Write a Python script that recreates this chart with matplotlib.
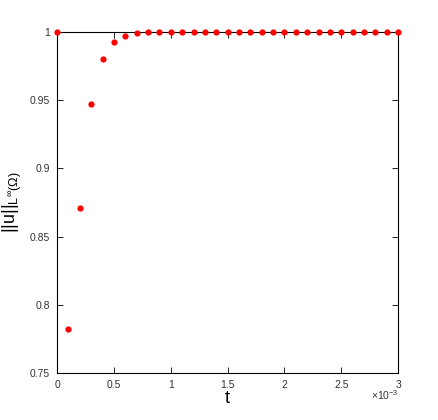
import numpy as np
import matplotlib
matplotlib.use('Agg')
import matplotlib.pyplot as plt

# time steps (in units of 1e-3) and sup-norm values
t = np.arange(31) * 0.1e-3
norm_vals = [1.0, 0.782, 0.871, 0.947, 0.980, 0.9925, 0.997, 0.999] + [1.0] * 23

plt.rcParams['font.family'] = ['Liberation Sans', 'DejaVu Sans']
plt.rcParams['mathtext.fontset'] = 'custom'
plt.rcParams['mathtext.rm'] = 'Liberation Sans'
plt.rcParams['mathtext.it'] = 'Liberation Sans'

fig = plt.figure(figsize=(4.39, 4.20), dpi=100)
ax = fig.add_axes([0.130, 0.112, 0.777, 0.812])
ax.plot(t, norm_vals, 'o', color='#ff0000', markersize=4.5, markeredgewidth=0, clip_on=False, zorder=3)

ax.set_xlim(0, 3e-3)
ax.set_ylim(0.75, 1.0)
ax.set_xticks(np.arange(0, 3.01e-3, 0.5e-3))
ax.set_xticklabels(['0', '0.5', '1', '1.5', '2', '2.5', '3'])
ax.set_yticks([0.75, 0.8, 0.85, 0.9, 0.95, 1.0])
ax.set_yticklabels(['0.75', '0.8', '0.85', '0.9', '0.95', '1'])
ax.tick_params(direction='in', top=True, right=True, labelsize=7.5, labelcolor='#333333',
               length=4, width=0.6, pad=5)
for s in ax.spines.values():
    s.set_linewidth(0.8)

ax.text(1.0, -0.045, r'$\times10^{-3}$', transform=ax.transAxes, ha='right', va='top',
        fontsize=7.5, color='#333333')
ax.set_xlabel('t', fontsize=13, labelpad=0)
ax.set_ylabel(r'||u||$_{\mathrm{L}^{\infty}(\Omega)}$', fontsize=13, labelpad=4)

fig.savefig('out.png', dpi=100)
